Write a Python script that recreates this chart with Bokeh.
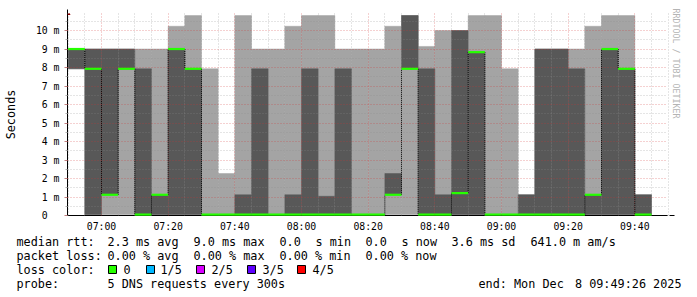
from bokeh.plotting import figure
from bokeh.layouts import column
from bokeh.models import FixedTicker, Arrow, NormalHead, Range1d, ColumnDataSource, Title
from bokeh.core.properties import value
from bokeh.embed import file_html
from bokeh.resources import INLINE

# ---------------- data (5 sorted DNS pings per 5-minute slot, in ms) ----------------
slot_start = ["06:50", "06:55", "07:00", "07:05", "07:10", "07:15", "07:20", "07:25", "07:30",
              "07:35", "07:40", "07:45", "07:50", "07:55", "08:00", "08:05", "08:10", "08:15",
              "08:20", "08:25", "08:30", "08:35", "08:40", "08:45", "08:50", "08:55", "09:00",
              "09:05", "09:10", "09:15", "09:20", "09:25", "09:30", "09:35", "09:40"]
ping1 = [7.93, 0.05, 0.05, 0.05, 0.05, 0.05, 0.05, 0.05, 0.05, 0.05, 0.05, 0.05, 0.05, 0.05, 0.05,
         0.05, 0.05, 0.05, 0.05, 0.05, 0.05, 0.05, 0.05, 0.05, 0.05, 0.05, 0.05, 0.05, 0.05, 0.05,
         0.05, 0.05, 0.05, 0.05, 0.05]
ping2 = [7.93, 0.05, 1.12, 7.93, 0.05, 0.05, 0.05, 0.05, 0.05, 0.05, 0.05, 0.05, 0.05, 0.05, 0.05,
         0.05, 0.05, 0.05, 0.05, 1.12, 7.93, 0.05, 0.05, 0.05, 0.05, 0.05, 0.05, 0.05, 0.05, 0.05,
         0.05, 0.05, 0.05, 0.05, 0.05]
median = [9.0, 7.93, 1.12, 7.93, 0.05, 1.12, 9.0, 7.93, 0.05, 0.05, 0.05, 0.05, 0.05, 0.05, 0.05,
          0.05, 0.05, 0.05, 0.05, 1.12, 7.93, 0.05, 0.05, 1.21, 8.83, 0.05, 0.05, 0.05, 0.05, 0.05,
          0.05, 1.12, 9.0, 7.93, 0.05]
ping4 = [9.0, 9.0, 9.0, 9.0, 7.93, 1.12, 9.0, 7.93, 0.05, 0.05, 1.12, 7.93, 0.05, 1.12, 7.93,
         1.04, 7.93, 0.05, 0.05, 2.27, 10.81, 7.93, 1.12, 10.0, 8.83, 0.05, 0.05, 1.12, 9.0, 9.0,
         7.93, 1.12, 9.0, 7.93, 1.12]
ping5 = [9.0, 9.0, 9.0, 9.0, 9.0, 9.0, 10.23, 10.81, 7.93, 2.27, 10.81, 9.0, 9.0, 10.23, 10.81,
         10.81, 9.0, 9.0, 9.0, 10.23, 10.81, 9.14, 10.0, 10.0, 10.81, 10.81, 7.93, 1.12, 9.0, 9.0,
         9.0, 10.23, 10.81, 10.81, 1.12]

x_tick_labels = ["07:00", "07:20", "07:40", "08:00", "08:20", "08:40", "09:00", "09:20", "09:40"]
y_tick_labels = ["0\u00a0\u00a0", "1 m", "2 m", "3 m", "4 m", "5 m", "6 m", "7 m", "8 m", "9 m", "10 m"]
step_minutes = 5
view_start, view_end = "06:49:48", "09:49:48"

legend_texts = [
    ["median rtt:", "2.3 ms avg", "9.0 ms max", "0.0", "s min", "0.0", "s now", "3.6 ms sd", "641.0 m am/s"],
    ["packet loss:", "0.00 % avg", "0.00 % max", "0.00 % min", "0.00 % now"],
    ["loss color:"],
    ["probe:", "5 DNS requests every 300s", "end: Mon Dec"],
]
end_tail = "8 09:49:26 2025"
loss_labels = ["0", "1/5", "2/5", "3/5", "4/5"]
loss_colors = ["#26ff00", "#00b8ff", "#d800ff", "#5e00ff", "#ff0000"]

# ---------------- layout (pixel positions of the legend block) ----------------
legend_x = [
    [16, 107, 193, 279, 315, 365, 401, 451, 530],
    [16, 107, 193, 279, 365],
    [16],
    [16, 107, 478],
]
row_y = [241, 255, 269, 283]
end_tail_right = 681
loss_box_x = [108, 146, 196, 247, 297]
loss_text_x = [123, 160, 211, 262, 312]


def to_min(s):
    parts = [int(v) for v in s.split(":")]
    return parts[0] * 60 + parts[1] + (parts[2] / 60 if len(parts) > 2 else 0)


left = [to_min(s) for s in slot_start]
right = [v + step_minutes for v in left]

MONO = "DejaVu Sans Mono"
MAIN_H = 235

p = figure(width=697, height=MAIN_H, output_backend="svg", toolbar_location=None,
           x_range=Range1d(to_min(view_start), to_min(view_end)), y_range=Range1d(0, 10.92),
           min_border_left=67, min_border_right=30, min_border_top=13, min_border_bottom=MAIN_H - 215,
           background_fill_color="white", border_fill_color="white", outline_line_color=None)
p.frame_align = False

src = ColumnDataSource(dict(left=left, right=right, p1=ping1, p2=ping2, p4=ping4, p5=ping5, med=median))
p.quad(left="left", right="right", bottom="p1", top="p5", source=src,
       fill_color="#a4a4a4", line_color="#a4a4a4", line_width=0.5)
p.quad(left="left", right="right", bottom="p2", top="p4", source=src,
       fill_color="#585858", line_color="#585858", line_width=0.5)

cx = right[:-1]
p.segment(x0=cx, x1=cx, y0=median[:-1], y1=median[1:], line_color="black",
          line_width=1, line_dash="1 1", level="annotation")
p.segment(x0="left", x1="right", y0="med", y1="med", source=src,
          line_color=loss_colors[0], line_width=2.2, level="annotation")

x_major = [to_min(s) for s in x_tick_labels]
x_minor = [left[0] + step_minutes * k for k in range(37)]
x_minor = [v for v in x_minor if v not in x_major]
y_major = list(range(0, 11))
y_minor = [k + 0.5 for k in range(0, 11)]

xt = FixedTicker(ticks=x_major, minor_ticks=x_minor)
yt = FixedTicker(ticks=y_major, minor_ticks=y_minor)
p.xaxis.ticker = xt
p.yaxis.ticker = yt
p.xgrid.ticker = xt
p.ygrid.ticker = FixedTicker(ticks=y_major[1:], minor_ticks=y_minor)
p.xaxis.major_label_overrides = {v: t for v, t in zip(x_major, x_tick_labels)}
p.yaxis.major_label_overrides = {v: t for v, t in zip(y_major, y_tick_labels)}

for g in (p.xgrid, p.ygrid):
    g.level = "guide"
    g.grid_line_color = "#d03030"
    g.grid_line_alpha = 0.45
    g.grid_line_dash = "1 2"
    g.minor_grid_line_color = "#8c8c8c"
    g.minor_grid_line_alpha = 0.45
    g.minor_grid_line_dash = "1 2"

for ax in (p.xaxis, p.yaxis):
    ax.axis_line_color = "black"
    ax.major_label_text_font = MONO
    ax.major_label_text_font_size = "9.8px"
    ax.major_label_text_color = "black"
    ax.major_tick_in = 0
    ax.minor_tick_in = 0

p.xaxis.major_tick_out = 0
p.xaxis.minor_tick_out = 0
p.xaxis.major_label_standoff = 5
p.yaxis.major_tick_out = 3
p.yaxis.minor_tick_out = 2
p.yaxis.major_tick_line_color = "#c08080"
p.yaxis.minor_tick_line_color = "#b0b0b0"
p.yaxis.major_label_standoff = 5
p.yaxis.axis_label = "Seconds"
p.yaxis.axis_label_text_font = MONO
p.yaxis.axis_label_text_font_size = "11.8px"
p.yaxis.axis_label_text_font_style = "normal"
p.yaxis.axis_label_text_color = "black"
p.yaxis.axis_label_standoff = 15

p.add_layout(Arrow(x_start=0, y_start=190, x_end=0, y_end=206, start_units="screen", end_units="screen",
                   line_color="black", line_width=1,
                   end=NormalHead(size=5, fill_color="#8b0000", line_color="#8b0000")))
p.add_layout(Arrow(x_start=590, y_start=0, x_end=607, y_end=0, start_units="screen", end_units="screen",
                   line_color="black", line_width=1,
                   end=NormalHead(size=5, fill_color="#8b0000", line_color="#8b0000")))

p.add_layout(Title(text="RRDTOOL / TOBI OETIKER", align="left", vertical_align="top", offset=-5,
                   text_font=MONO, text_font_size="8.3px",
                   text_font_style="normal", text_color="#b4b4b4", standoff=3), "right")

# ---------------- legend block (separate panel, pixel coordinates) ----------------
q = figure(width=697, height=297 - MAIN_H, output_backend="svg", toolbar_location=None,
           x_range=Range1d(0, 697), y_range=Range1d(297, MAIN_H),
           min_border=0, x_axis_location=None, y_axis_location=None,
           background_fill_color="white", border_fill_color="white", outline_line_color=None)
q.frame_align = False
q.grid.visible = False

tx, ty, tt = [], [], []
for yc, texts, xs in zip(row_y, legend_texts, legend_x):
    for t, xpx in zip(texts, xs):
        tx.append(xpx); ty.append(yc); tt.append(t)
for t, xpx in zip(loss_labels, loss_text_x):
    tx.append(xpx); ty.append(row_y[2]); tt.append(t)
q.text(x=tx, y=ty, text=tt, text_font=value(MONO), text_font_size="11.8px", text_color="black",
       text_align="left", text_baseline="middle")
q.text(x=[end_tail_right], y=[row_y[3]], text=[end_tail], text_font=value(MONO), text_font_size="11.8px",
       text_color="black", text_align="right", text_baseline="middle")
q.quad(left=loss_box_x, right=[v + 8 for v in loss_box_x], top=[row_y[2] - 4] * 5, bottom=[row_y[2] + 4] * 5,
       fill_color=loss_colors, line_color="black", line_width=1)

layout = column(p, q, spacing=0)
open("out.html", "w").write(file_html(layout, INLINE))
